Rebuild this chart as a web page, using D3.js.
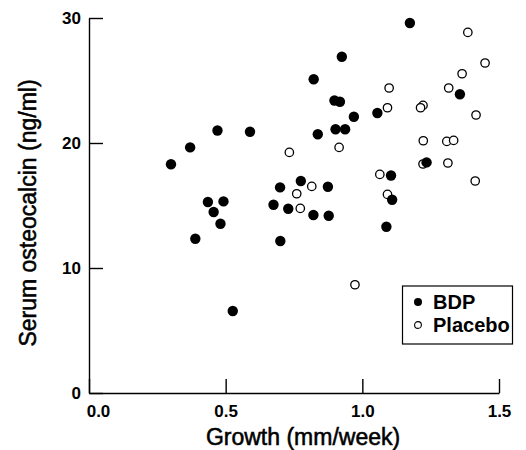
<!DOCTYPE html>
<html>
<head>
<meta charset="utf-8">
<script src="https://cdn.jsdelivr.net/npm/d3@7"></script>
<style>
  body { margin: 0; background: #fff; }
  text { font-family: "Liberation Sans", Arial, sans-serif; fill: #000; }
  .title { stroke: #000; stroke-width: 0.55px; }
</style>
</head>
<body>
<svg id="chart"></svg>
<script>
// values
var bdpGrowth = [0.300, 0.370, 0.470, 0.589, 0.699, 0.775, 0.435, 0.492, 0.456, 0.481, 0.675,
  0.729, 1.174, 0.925, 0.822, 1.357, 0.898, 0.918, 1.055, 0.969, 0.902, 0.937, 0.837, 1.235,
  1.105, 0.874, 0.821, 0.877, 1.109, 1.088, 0.389, 0.700, 0.526];
var bdpOsteo = [18.3, 19.65, 21.0, 20.9, 16.45, 16.96, 15.28, 15.33, 14.48, 13.54, 15.06,
  14.74, 29.6, 26.9, 25.1, 23.9, 23.4, 23.3, 22.4, 22.1, 21.1, 21.1, 20.7, 18.45,
  17.4, 16.5, 14.24, 14.18, 15.46, 13.3, 12.34, 12.16, 6.56];

var placeboGrowth = [0.733, 0.760, 0.815, 0.773, 1.386, 1.449, 1.365, 1.098, 1.316, 1.092, 1.222,
  1.213, 1.416, 0.915, 1.223, 1.309, 1.334, 1.222, 1.313, 1.413, 1.064, 1.092, 0.973];
var placeboOsteo = [19.25, 15.94, 16.53, 14.77, 28.85, 26.4, 25.54, 24.4, 24.4, 22.82, 23.01,
  22.82, 22.24, 19.65, 20.18, 20.13, 20.21, 18.32, 18.4, 16.96, 17.49, 15.89, 8.66];

var xTicks = [0, 0.5, 1.0, 1.5];
var yTicks = [0, 10, 20, 30];
var groups = ["BDP", "Placebo"];

var margin = { top: 18, right: 27, bottom: 57, left: 89 },
  width = 526 - margin.left - margin.right,
  height = 450 - margin.top - margin.bottom;

var svg = d3.select("#chart")
  .attr("width", width + margin.left + margin.right)
  .attr("height", height + margin.top + margin.bottom)
  .append("g")
  .attr("transform", "translate(" + margin.left + "," + margin.top + ")");

var x = d3.scaleLinear().domain([0, 1.5]).range([0, width]);
var y = d3.scaleLinear().domain([0, 30]).range([height, 0]);

// axes, ticks point inwards
var xAxis = svg.append("g")
  .attr("transform", "translate(0," + height + ")")
  .call(d3.axisBottom(x).tickValues(xTicks).tickFormat(d3.format(".1f"))
    .tickSizeInner(-14).tickSizeOuter(0).tickPadding(12));
xAxis.selectAll("text").style("font-size", "17px").style("font-weight", "bold");
xAxis.select(".tick text").attr("dx", 9);

var yAxis = svg.append("g")
  .call(d3.axisLeft(y).tickValues(yTicks).tickSizeInner(-14).tickSizeOuter(0).tickPadding(8));
yAxis.selectAll("text").style("font-size", "17px").style("font-weight", "bold");

svg.selectAll(".domain, .tick line").attr("stroke", "#000").attr("stroke-width", 1.4);

// axis titles
svg.append("text")
  .attr("class", "title")
  .attr("x", 303 - margin.left)
  .attr("y", 445 - margin.top)
  .style("text-anchor", "middle")
  .style("font-size", "23px")
  .text("Growth (mm/week)");

svg.append("text")
  .attr("class", "title")
  .attr("transform", "translate(" + (36 - margin.left) + "," + (213 - margin.top) + ") rotate(-90)")
  .style("text-anchor", "middle")
  .style("font-size", "23px")
  .text("Serum osteocalcin (ng/ml)");

// placebo first so BDP dots sit on top
var placebo = placeboGrowth.map(function (g, i) { return { g: g, o: placeboOsteo[i] }; });
var bdp = bdpGrowth.map(function (g, i) { return { g: g, o: bdpOsteo[i] }; });

svg.selectAll(".placebo")
  .data(placebo)
  .enter()
  .append("circle")
  .attr("class", "placebo")
  .attr("cx", function (d) { return x(d.g); })
  .attr("cy", function (d) { return y(d.o); })
  .attr("r", 4.2)
  .attr("fill", "#fff")
  .attr("stroke", "#000")
  .attr("stroke-width", 1.3);

svg.selectAll(".bdp")
  .data(bdp)
  .enter()
  .append("circle")
  .attr("class", "bdp")
  .attr("cx", function (d) { return x(d.g); })
  .attr("cy", function (d) { return y(d.o); })
  .attr("r", 5.2)
  .attr("fill", "#000");

// legend
var legend = svg.append("g")
  .attr("transform", "translate(" + (402.5 - margin.left) + "," + (286 - margin.top) + ")");
legend.append("rect")
  .attr("width", 110)
  .attr("height", 58)
  .attr("fill", "#fff")
  .attr("stroke", "#000")
  .attr("stroke-width", 1.2);

var item = legend.selectAll(".item")
  .data(groups)
  .enter()
  .append("g")
  .attr("transform", function (d, i) { return "translate(0," + (16 + i * 23) + ")"; });
item.append("circle")
  .attr("cx", 15.5)
  .attr("r", function (d, i) { return i == 0 ? 4 : 3.4; })
  .attr("fill", function (d, i) { return i == 0 ? "#000" : "#fff"; })
  .attr("stroke", "#000")
  .attr("stroke-width", function (d, i) { return i == 0 ? 0 : 1.1; });
item.append("text")
  .attr("x", 30.5)
  .attr("y", 7)
  .style("font-size", "20px")
  .style("font-weight", "bold")
  .text(function (d) { return d; });
</script>
</body>
</html>
